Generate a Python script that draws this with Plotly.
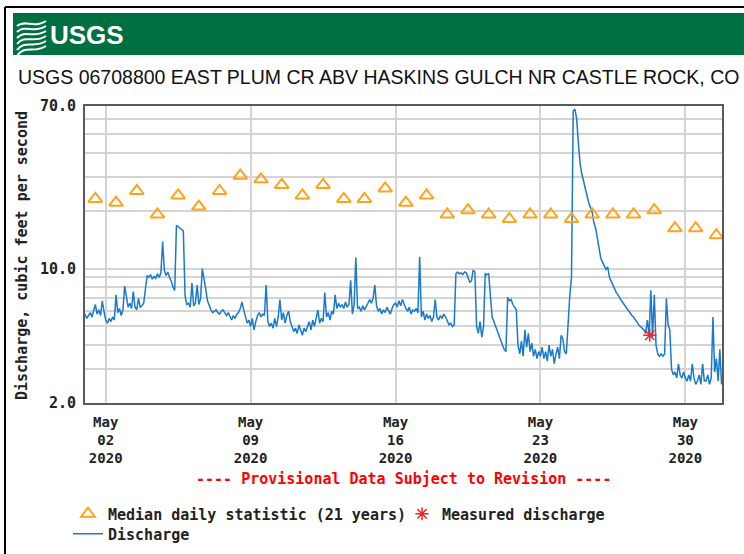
import pandas as pd
import plotly.graph_objects as go

# median daily statistic (21 years), one value per day of May, drawn at noon
median_days = list(range(1, 32))
median_cfs = [23.0, 22.0, 25.3, 19.1, 24.0, 21.0, 25.3, 30.4, 29.1, 27.2,
              24.0, 27.2, 23.0, 23.0, 26.1, 22.0, 24.0, 19.1, 20.1, 19.1,
              18.1, 19.1, 19.1, 18.1, 19.1, 19.1, 19.1, 20.1, 16.2, 16.2, 14.9]

# field measurement
measured_time = ["2020-05-28 06:45"]
measured_cfs = [4.5]

# discharge, read every 2 hours starting 2020-05-01 00:00 (one row per day)
discharge_cfs = [
    5.8, 5.5, 5.7, 5.9, 5.6, 6.0, 6.5, 5.8, 6.1, 5.7, 6.8, 6.0,
    5.4, 5.2, 5.5, 5.3, 5.6, 5.4, 7.3, 5.9, 6.2, 5.7, 6.1, 8.1,
    7.0, 6.3, 6.6, 6.2, 7.6, 6.3, 6.1, 7.0, 6.3, 6.4, 6.6, 8.0,
    9.2, 9.0, 9.3, 8.8, 9.1, 8.9, 9.4, 9.0, 9.5, 13.8, 9.8, 9.2,
    9.6, 9.0, 8.6, 8.0, 7.7, 16.8, 16.5, 16.3, 16.0, 15.7, 7.2, 6.5,
    6.6, 6.3, 8.4, 6.4, 6.6, 8.2, 6.5, 7.0, 10.0, 9.0, 7.8, 6.8,
    6.4, 6.1, 5.9, 6.0, 6.1, 5.9, 5.8, 6.0, 6.1, 5.9, 5.7, 5.9,
    5.6, 5.4, 5.7, 5.5, 5.8, 5.9, 6.2, 6.7, 6.1, 5.6, 5.2, 5.4,
    5.0, 5.5, 4.8, 5.3, 5.7, 5.9, 5.6, 5.8, 5.7, 8.2, 5.3, 5.0,
    5.2, 4.9, 5.5, 5.0, 5.6, 6.9, 5.4, 5.9, 5.2, 5.7, 6.0, 5.3,
    5.0, 4.7, 4.9, 4.6, 5.1, 4.8, 4.5, 4.9, 4.7, 5.0, 5.3, 4.8,
    5.4, 5.0, 5.6, 6.1, 5.2, 5.5, 5.3, 7.5, 5.6, 5.9, 5.4, 6.0,
    5.8, 7.3, 6.2, 6.6, 6.3, 6.5, 6.2, 6.7, 6.3, 6.5, 8.7, 5.8,
    6.5, 11.4, 6.2, 6.3, 6.0, 6.4, 6.1, 6.3, 6.6, 6.9, 6.6, 7.0,
    8.2, 6.4, 6.0, 6.2, 5.8, 6.1, 5.9, 6.3, 6.0, 5.8, 6.2, 6.5,
    6.6, 6.3, 6.8, 6.4, 6.9, 6.5, 6.2, 6.0, 6.3, 5.8, 6.1, 6.0,
    6.2, 5.9, 11.5, 5.6, 6.0, 5.4, 5.8, 5.5, 5.7, 5.3, 5.6, 6.9,
    5.6, 5.4, 5.7, 5.5, 5.8, 5.6, 5.3, 5.1, 5.2, 5.0, 5.1, 9.4,
    9.6, 9.4, 9.5, 9.3, 9.6, 9.5, 9.0, 8.5, 8.6, 9.8, 9.6, 5.0,
    4.6, 5.3, 4.4, 5.0, 9.4, 9.3, 9.4, 7.6, 5.6, 5.3, 5.0, 4.7,
    4.4, 4.2, 4.0, 3.8, 3.7, 7.1, 6.8, 6.9, 6.5, 6.3, 6.1, 4.0,
    3.6, 4.2, 3.5, 4.8, 3.9, 4.6, 3.7, 4.1, 3.5, 3.8, 3.4, 3.7,
    3.5, 3.9, 3.4, 3.7, 3.3, 4.0, 3.5, 3.8, 3.2, 3.6, 3.9, 3.4,
    4.5, 4.3, 3.7, 3.6, 5.2, 7.2, 9.0, 66.0, 67.5, 60.0, 45.0, 35.0,
    31.0, 28.5, 25.5, 23.8, 22.0, 20.8, 19.6, 17.3, 16.2, 14.4, 12.6, 11.3,
    10.8, 10.3, 9.9, 10.2, 9.0, 8.6, 8.2, 7.9, 7.5, 7.3, 7.0, 6.8,
    6.6, 6.4, 6.2, 6.0, 5.9, 5.7, 5.6, 5.4, 5.3, 5.1, 5.0, 4.9,
    4.8, 4.6, 5.4, 4.5, 7.7, 4.4, 7.3, 4.0, 3.6, 3.5, 3.6, 3.5,
    3.6, 7.0, 5.1, 4.8, 3.0, 2.8, 2.9, 2.7, 3.2, 2.8, 2.7, 2.9,
    2.7, 2.6, 2.8, 2.6, 3.2, 2.7, 2.5, 2.6, 2.8, 2.5, 3.2, 2.6,
    2.6, 2.8, 2.5, 2.7, 5.6, 2.9, 3.4, 2.6, 3.8, 2.5,
]

tick_dates = ["2020-05-02", "2020-05-09", "2020-05-16", "2020-05-23", "2020-05-30"]
tick_text = ["May<br>02<br>2020", "May<br>09<br>2020", "May<br>16<br>2020",
             "May<br>23<br>2020", "May<br>30<br>2020"]
y_ticks = [2, 10, 70]
y_tick_text = ["2.0", "10.0", "70.0"]
y_minor = [3, 4, 5, 6, 7, 8, 9, 20, 30, 40, 50, 60]

flow_time = pd.date_range("2020-05-01", periods=len(discharge_cfs), freq="2h")
median_time = pd.to_datetime([f"2020-05-{d:02d} 12:00" for d in median_days])

W, H = 744, 554
L, R, T, B = 85, 722, 106, 403


def px(x):
    return (x - L) / (R - L)


def py(y):
    return (B - y) / (B - T)


MONO = "DejaVu Sans Mono"
SANS = "Liberation Sans, Arial, sans-serif"
TXT = "#222222"

fig = go.Figure()

fig.add_trace(go.Scatter(
    x=flow_time, y=discharge_cfs, mode="lines", name="Discharge",
    line=dict(color="#1a7acb", width=1.5), legend="legend2"))

fig.add_trace(go.Scatter(
    x=median_time, y=median_cfs, mode="markers",
    name="Median daily statistic (21 years)",
    marker=dict(symbol="triangle-up-open", size=12, color="#ffa31a",
                line=dict(width=2, color="#ffa31a"))))

fig.add_trace(go.Scatter(
    x=pd.to_datetime(measured_time), y=measured_cfs, mode="markers",
    name="Measured discharge",
    marker=dict(symbol="asterisk-open", size=11, color="#ff2020",
                line=dict(width=1.5, color="#ff2020"))))

shapes = [
    # green banner
    dict(type="rect", xref="paper", yref="paper", x0=px(13), x1=px(744),
         y0=py(13), y1=py(55), fillcolor="#006f41", line_width=0, layer="below"),
    # screenshot frame on top and left
    dict(type="line", xref="paper", yref="paper", x0=px(5), x1=px(744),
         y0=py(7), y1=py(7), line=dict(color="black", width=2)),
    dict(type="line", xref="paper", yref="paper", x0=px(5), x1=px(5),
         y0=py(7), y1=py(554), line=dict(color="black", width=2)),
]

# wave icon of the logo
for i in range(6):
    y0 = 22 + i * 5
    path = (f"M {px(17)},{py(y0 + 4 + i)} "
            f"C {px(25)},{py(y0 - 3)} {px(34)},{py(y0 + 7)} {px(46)},{py(y0 - 1)}")
    shapes.append(dict(type="path", xref="paper", yref="paper", path=path,
                       line=dict(color="white", width=2)))

annotations = [
    dict(text="<b>USGS</b>", x=px(48), y=py(35), xref="paper", yref="paper",
         xanchor="left", yanchor="middle", showarrow=False,
         font=dict(family=SANS, size=26, color="white")),
    dict(text="USGS 06708800 EAST PLUM CR ABV HASKINS GULCH NR CASTLE ROCK, CO",
         x=px(16), y=py(77), xref="paper", yref="paper", xanchor="left",
         yanchor="middle", showarrow=False,
         font=dict(family=SANS, size=19.5, color="#111111")),
    dict(text="Discharge, cubic feet per second", textangle=-90,
         x=px(22), y=py(256), xref="paper", yref="paper", xanchor="center",
         yanchor="middle", showarrow=False,
         font=dict(family=MONO, size=15, color=TXT, weight="bold")),
    dict(text="---- Provisional Data Subject to Revision ----",
         x=px(403), y=py(479), xref="paper", yref="paper", xanchor="center",
         yanchor="middle", showarrow=False,
         font=dict(family=MONO, size=15, color="#ff0000", weight="bold")),
]

legend_font = dict(family=MONO, size=15, color=TXT, weight="bold")

fig.update_layout(
    width=W, height=H,
    margin=dict(l=L, r=W - R, t=T, b=H - B, autoexpand=False),
    paper_bgcolor="white", plot_bgcolor="white",
    shapes=shapes, annotations=annotations,
    showlegend=True,
    legend=dict(orientation="h", x=px(68), y=py(514), xanchor="left",
                yanchor="middle", bgcolor="rgba(0,0,0,0)", entrywidth=289,
                font=legend_font),
    legend2=dict(orientation="h", x=px(68), y=py(534), xanchor="left",
                 yanchor="middle", bgcolor="rgba(0,0,0,0)", font=legend_font),
    xaxis=dict(
        type="date", range=["2020-05-01 00:00", "2020-05-31 18:30"],
        tickvals=tick_dates, ticktext=tick_text, ticks="",
        ticklabelstandoff=5,
        tickfont=dict(family=MONO, size=14, color=TXT, weight="bold"),
        showgrid=True, gridcolor="#d4d4d4", gridwidth=2,
        showline=True, linecolor="#5a5a5a", linewidth=2, mirror=True,
        zeroline=False),
    yaxis=dict(
        type="log", range=[0.30103, 1.845098],
        tickvals=y_ticks, ticktext=y_tick_text, ticks="",
        ticklabelstandoff=4,
        tickfont=dict(family=MONO, size=15, color=TXT, weight="bold"),
        showgrid=True, gridcolor="#d4d4d4", gridwidth=2,
        minor=dict(tickvals=y_minor, showgrid=True, gridcolor="#d4d4d4",
                   gridwidth=2, ticks=""),
        showline=True, linecolor="#5a5a5a", linewidth=2, mirror=True,
        zeroline=False),
)

# page has a default 8px body margin; drop it so the figure sits at the origin
fig.write_html("out.html", config={"displayModeBar": False},
               post_script="document.body.style.margin='0';"
                           "document.body.style.overflow='hidden';")
